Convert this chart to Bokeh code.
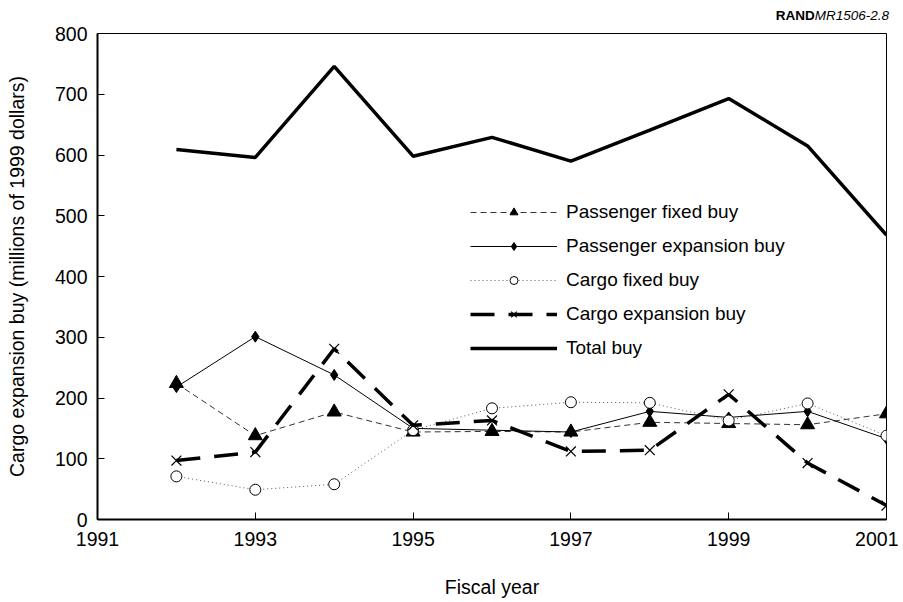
from bokeh.plotting import figure
from bokeh.models import Legend, LegendItem, FixedTicker, Range1d, Div
from bokeh.layouts import column
from bokeh.embed import file_html
from bokeh.resources import INLINE

years = [1992, 1993, 1994, 1995, 1996, 1997, 1998, 1999, 2000, 2001]
passenger_fixed = [224, 138, 177, 144, 145, 144, 160, 158, 156, 174]
passenger_expansion = [218, 301, 238, 150, 147, 144, 178, 168, 178, 133]
cargo_fixed = [71, 49, 58, 147, 183, 193, 192, 163, 191, 138]
cargo_expansion = [97, 111, 281, 155, 163, 112, 114, 206, 93, 23]
total_buy = [609, 596, 746, 598, 629, 590, 641, 693, 615, 468]

x_ticks = [1991, 1993, 1995, 1997, 1999, 2001]
y_ticks = [0, 100, 200, 300, 400, 500, 600, 700, 800]

FONT = "Liberation Sans"
FS = "19.5px"

p = figure(width=898, height=582, output_backend="svg", toolbar_location=None,
           x_range=Range1d(1991, 2001), y_range=Range1d(0, 800),
           min_border_left=97, min_border_right=12, min_border_top=13, min_border_bottom=83)
p.xgrid.visible = False
p.ygrid.visible = False
p.outline_line_color = "black"
p.outline_line_width = 1
p.background_fill_color = "white"

for ax in (p.xaxis[0], p.yaxis[0]):
    ax.axis_line_color = "black"
    ax.axis_line_width = 2
    ax.major_tick_in = 7
    ax.major_tick_out = 0
    ax.minor_tick_line_color = None
    ax.major_tick_line_color = "black"
    ax.major_label_text_font = FONT
    ax.major_label_text_font_size = FS
    ax.major_label_text_color = "black"
    ax.axis_label_text_font = FONT
    ax.axis_label_text_font_size = FS
    ax.axis_label_text_font_style = "normal"
    ax.axis_label_text_color = "black"

p.xaxis.ticker = FixedTicker(ticks=x_ticks)
p.yaxis.ticker = FixedTicker(ticks=y_ticks)
p.xaxis.axis_label = "Fiscal year"
p.yaxis.axis_label = "Cargo expansion buy (millions of 1999 dollars)"
p.xaxis.major_label_standoff = 12
p.xaxis.axis_label_standoff = 27
p.yaxis.major_label_standoff = 10
p.yaxis.axis_label_standoff = 24

r_pf_l = p.line(years, passenger_fixed, line_color="#333333", line_width=1, line_dash="6 4")
r_pf_m = p.scatter(years, passenger_fixed, marker="triangle", size=14, fill_color="black", line_color="black")

r_pe_l = p.line(years, passenger_expansion, line_color="black", line_width=1)
r_pe_m = p.scatter(years, passenger_expansion, marker="diamond", size=11, fill_color="black", line_color="black")

r_cf_l = p.line(years, cargo_fixed, line_color="#555555", line_width=1, line_dash="1 3")
r_cf_m = p.scatter(years, cargo_fixed, marker="circle", size=11, fill_color="white", line_color="black", line_width=1)

r_ce_l = p.line(years, cargo_expansion, line_color="black", line_width=3.5, line_dash="24 14")
r_ce_m = p.scatter(years, cargo_expansion, marker="x", size=14, line_color="black", line_width=1.2)

r_tot = p.line(years, total_buy, line_color="black", line_width=3.5)

legend = Legend(items=[
    LegendItem(label="Passenger fixed buy", renderers=[r_pf_l, r_pf_m]),
    LegendItem(label="Passenger expansion buy", renderers=[r_pe_l, r_pe_m]),
    LegendItem(label="Cargo fixed buy", renderers=[r_cf_l, r_cf_m]),
    LegendItem(label="Cargo expansion buy", renderers=[r_ce_l, r_ce_m]),
    LegendItem(label="Total buy", renderers=[r_tot]),
], location=(373, 160))
legend.border_line_color = None
legend.background_fill_alpha = 0
legend.padding = 0
legend.margin = 0
legend.glyph_width = 87
legend.glyph_height = 20
legend.label_height = 20
legend.spacing = 12
legend.label_standoff = 9
legend.label_text_font = FONT
legend.label_text_font_size = "19px"
legend.label_text_color = "black"
p.add_layout(legend, "center")

header = Div(
    text=('<div style="display:block;width:889px;font-family:\'Liberation Sans\';font-size:13.5px;'
          'line-height:16px;text-align:right;padding-top:8px;color:black;white-space:nowrap">'
          '<b>RAND</b><i>MR1506-2.8</i></div>'),
    width=898, height=20, margin=0)

layout = column(header, p, spacing=0)

open("out.html", "w").write(file_html(layout, INLINE))
